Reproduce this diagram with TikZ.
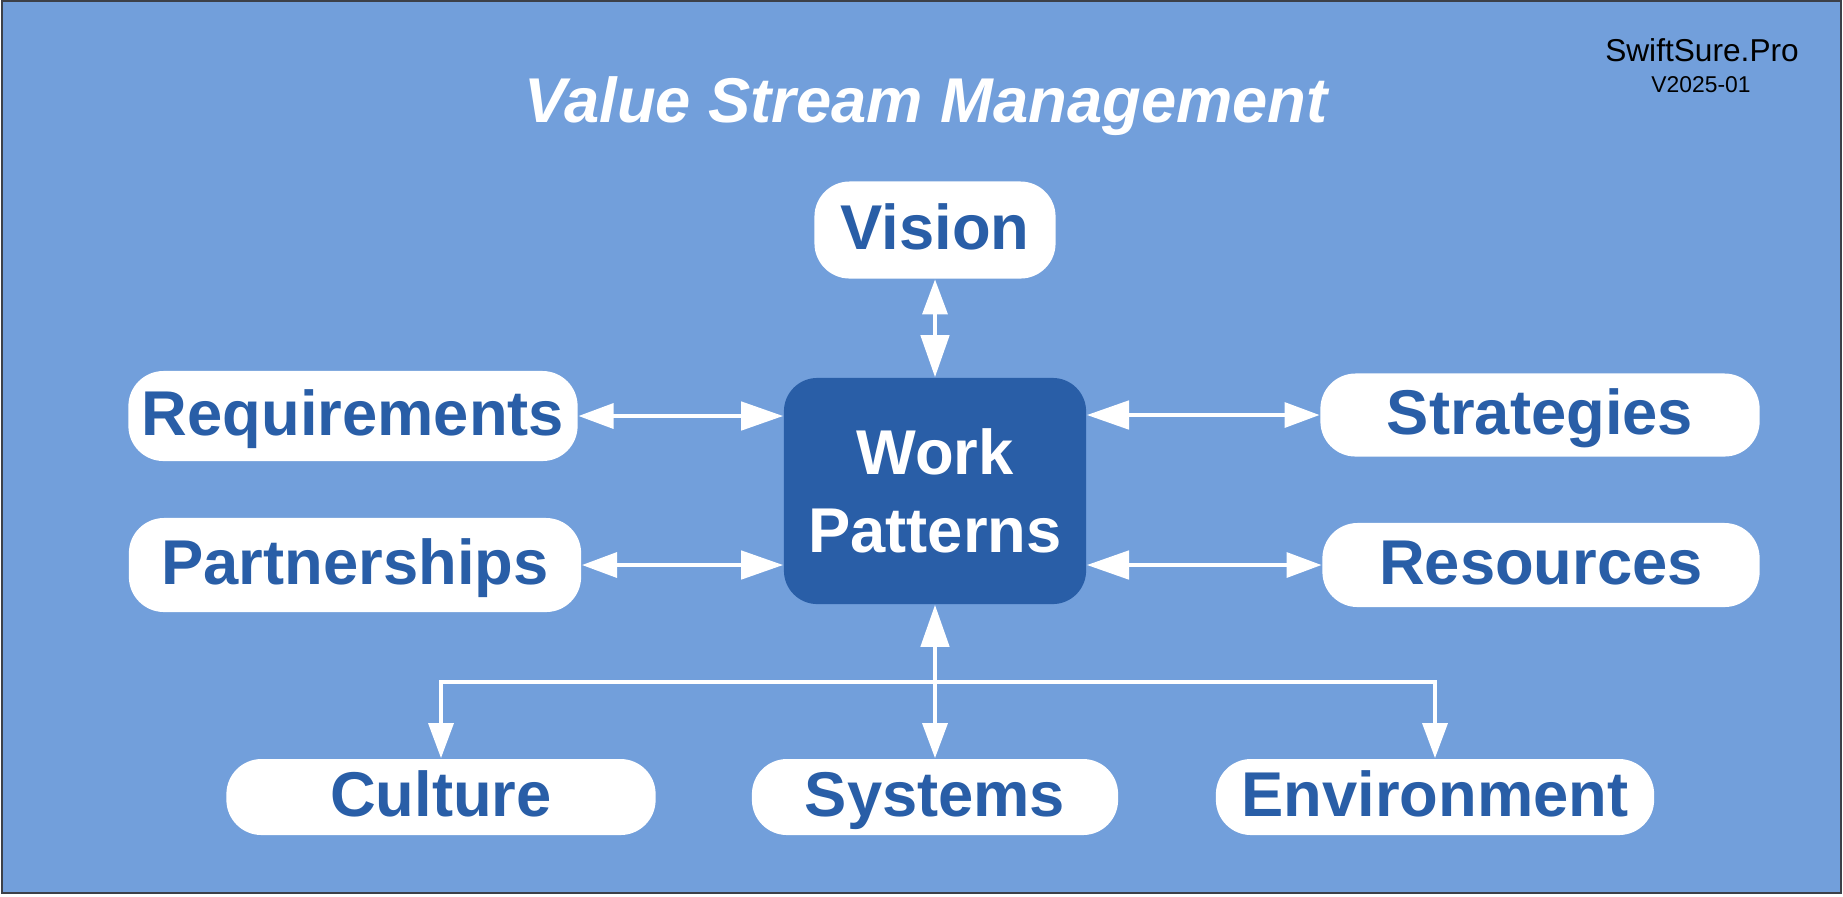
\documentclass[tikz,border=0pt]{standalone}
\usepackage{fontspec}
\setmainfont{Liberation Sans}
\usetikzlibrary{arrows.meta}
\definecolor{vsmback}{RGB}{114,159,219}
\definecolor{vsmdark}{RGB}{41,94,167}
\definecolor{vsmedge}{RGB}{60,64,72}
\begin{document}
\begin{tikzpicture}[x=0.01cm,y=-0.01cm,
	outer/.style={fill=white,text=vsmdark,rounded corners=10pt,inner sep=0pt,
		font=\fontsize{18}{20}\selectfont\bfseries,text height=13pt,text depth=2pt},
	hub/.style={fill=vsmdark,text=white,rounded corners=9.5pt,inner sep=0pt,align=center,
		font=\fontsize{18}{22}\selectfont\bfseries,minimum width=3.02cm,minimum height=2.26cm},
	link/.style={draw=white,line width=1.3pt},
	tipin/.tip={Triangle[length=12pt,width=8pt]},
	tipout/.tip={Triangle[length=10pt,width=7pt]}]
	\useasboundingbox (0,0) rectangle (1843,896);
	\fill[white] (0,0) rectangle (1843,896);
	\draw[fill=vsmback,draw=vsmedge,line width=0.6pt] (2,1) rectangle (1841,893);
	
	\coordinate (Hub) at (935,491);
	\coordinate (Bus) at (935,682);
	
	\node at (926,122) [anchor=base,text=white,font=\fontsize{18}{20}\selectfont\bfseries\itshape] (title) {Value Stream Management};
	\node at (1702,61) [anchor=base,font=\fontsize{9}{10}\selectfont] (brand) {SwiftSure.Pro};
	\node at (1701,92) [anchor=base,font=\fontsize{6.5}{7}\selectfont] (version) {V2025-01};
	
	\node[hub] at (Hub) (work) {Work\\Patterns};
	
	\node[outer,minimum width=2.41cm,minimum height=0.97cm] at (935,230) (vision) {Vision};
	\node[outer,minimum width=4.49cm,minimum height=0.90cm] at (353,416) (requirements) {Requirements};
	\node[outer,minimum width=4.52cm,minimum height=0.94cm] at (355,565) (partnerships) {Partnerships};
	\node[outer,minimum width=4.39cm,minimum height=0.83cm] at (1540,415) (strategies) {Strategies};
	\node[outer,minimum width=4.37cm,minimum height=0.84cm] at (1541,565) (resources) {Resources};
	\node[outer,minimum width=4.29cm,minimum height=0.76cm] at (441,797) (culture) {Culture};
	\node[outer,minimum width=3.66cm,minimum height=0.76cm] at (935,797) (systems) {Systems};
	\node[outer,minimum width=4.38cm,minimum height=0.76cm] at (1435,797) (environment) {Environment};
	
	% two-way links to the hub
	\draw[link,tipout-tipin] (vision.south) -- (work.north);
	\draw[link,tipout-tipin] (requirements.east) -- (requirements.east -| work.west);
	\draw[link,tipout-tipin] (partnerships.east) -- (partnerships.east -| work.west);
	\draw[link,tipout-tipin] (strategies.west) -- (strategies.west -| work.east);
	\draw[link,tipout-tipin] (resources.west) -- (resources.west -| work.east);
	
	% bus below the hub
	\draw[link,tipout-tipout] (culture.north) -- (culture.north |- Bus) -- (environment.north |- Bus) -- (environment.north);
	\draw[link,-tipout] (Bus) -- (systems.north);
	\draw[link,-tipin] (Bus) -- (work.south);
\end{tikzpicture}
\end{document}
